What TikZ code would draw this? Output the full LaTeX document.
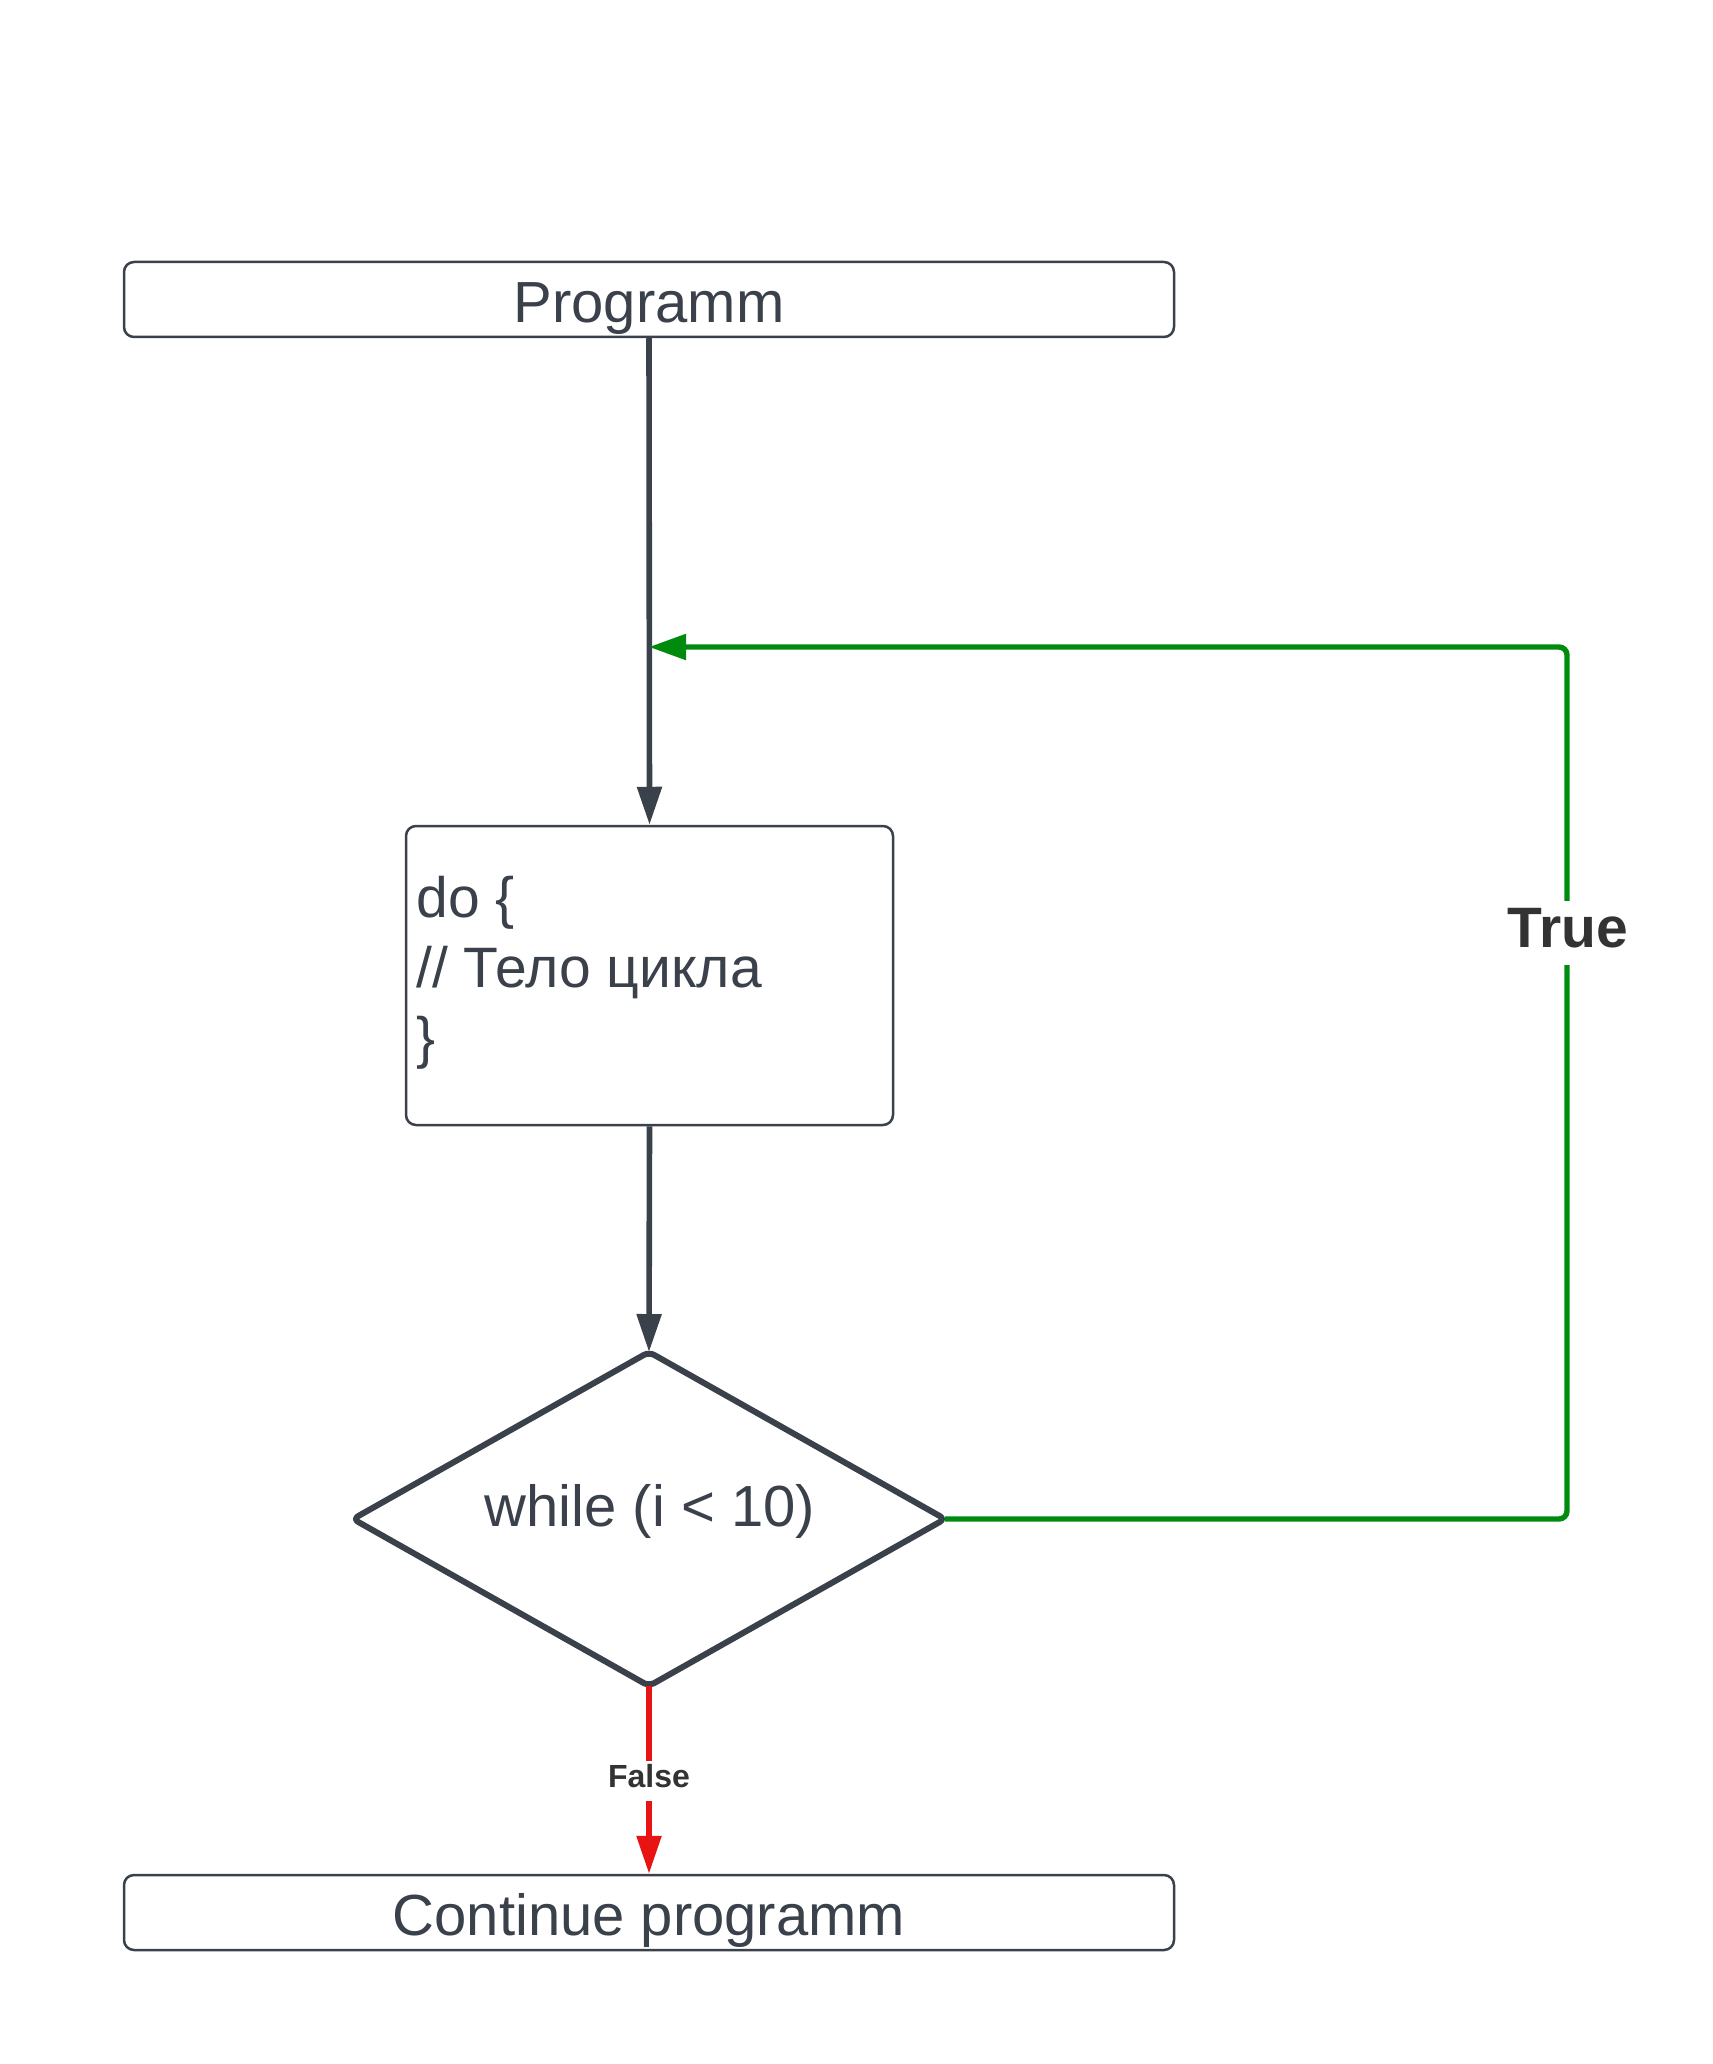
\documentclass[tikz,border=0pt]{standalone}
\usepackage{fontspec}
\setmainfont{Liberation Sans}
\usetikzlibrary{arrows.meta}
\definecolor{dk}{HTML}{3A414A}
\definecolor{lbl}{HTML}{333333}
\definecolor{gr}{HTML}{008A0E}
\definecolor{rd}{HTML}{E81313}
\begin{document}
\begin{tikzpicture}[x=0.5pt,y=-0.5pt,
  box/.style={draw=dk, line width=1.25pt, rounded corners=5pt, fill=white,
    text=dk, font=\fontsize{29pt}{34pt}\selectfont},
  widebox/.style={box, minimum width=525pt, minimum height=37.5pt, inner sep=0pt,
    text height=23pt, text depth=0pt},
  conn/.style={dk, line width=2.8pt, -{Triangle[length=19pt,width=12pt]}},
  yes/.style={gr, line width=2.7pt, rounded corners=4pt, -{Triangle[length=18.5pt,width=12.5pt]}},
  no/.style={rd, line width=2.8pt, -{Triangle[length=19pt,width=12pt]}},
  dia/.style={draw=dk, line width=3pt, rounded corners=3pt, line join=round},
  condtext/.style={text=dk, font=\fontsize{29pt}{34pt}\selectfont, inner sep=0pt},
  lab/.style={fill=white, text=lbl, inner xsep=3pt}
]
\useasboundingbox (0,0) rectangle (1712,2064);

% boxes
\node[widebox] (prog) at (649,299.5) {Programm};
\node[box, minimum width=243.5pt, minimum height=149.5pt, inner sep=0pt] (body) at (649.5,975.5) {};
\node[text=dk, font=\fontsize{28.5pt}{35pt}\selectfont, align=left, inner sep=0pt,
      anchor=base west] (bodytxt) at (416,1057) {do \{\\// Тело цикла\\\}};
\node[widebox] (cont) at (649,1912.5) {Continue programm};

% decision diamond
\coordinate (dT) at (649,1352);
\coordinate (dR) at (945,1519);
\coordinate (dB) at (649,1686);
\coordinate (dL) at (353,1519);
\draw[dia] (dT) -- (dR) -- (dB) -- (dL) -- cycle;
\node[condtext] (cond) at (650,1511) {while (i < 10)};

% connectors
\coordinate (join) at (649,647);
\coordinate (rc) at (1567,1519);
\coordinate (tc) at (1567,647);
\draw[conn] (prog.south) -- (body.north);
\draw[conn] (body.south) -- (dT);
\draw[yes] (dR) -- (rc) -- (tc) -- (join);
\draw[no] (dB) -- (cont.north);

% labels
\node[lab, font=\bfseries\fontsize{28.5pt}{32pt}\selectfont, inner ysep=2pt,
      text height=21pt, text depth=7pt] (ltrue) at (1568,933) {True};
\node[lab, font=\bfseries\fontsize{16pt}{19pt}\selectfont, inner ysep=1.5pt,
      text height=11.7pt, text depth=5.5pt] (lfalse) at (649,1781) {False};
\end{tikzpicture}
\end{document}
